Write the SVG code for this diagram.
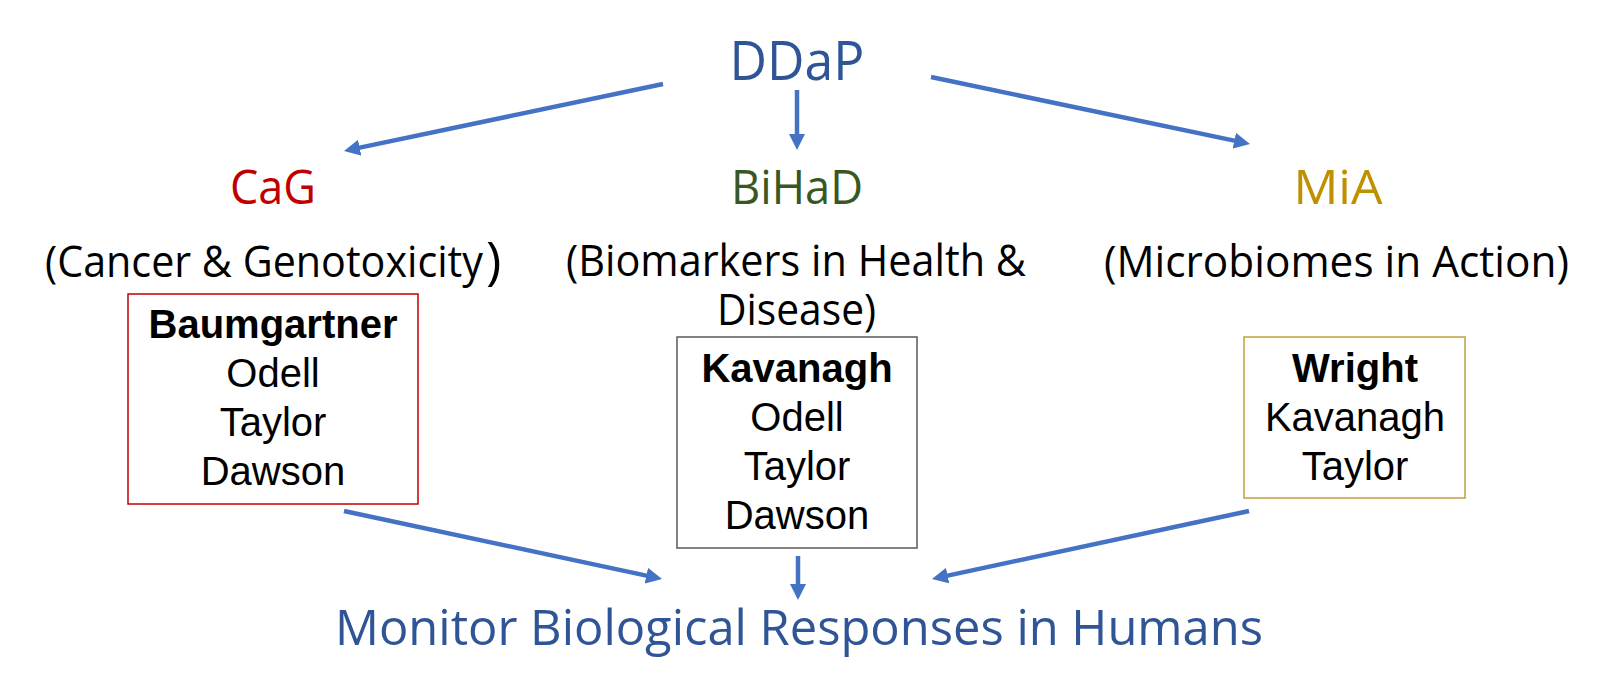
<svg xmlns="http://www.w3.org/2000/svg" width="1600" height="694" viewBox="0 0 1600 694">
<style>
.h{font-family:"Open Sans","Noto Sans",sans-serif;text-anchor:middle}
.d{font-family:"Open Sans","Noto Sans",sans-serif;font-size:43px;fill:#000}
.n{font-family:"Liberation Sans",Arial,sans-serif;font-size:40px;fill:#000;text-anchor:middle}
.b{font-weight:bold}
.c{fill:none;stroke:#4472C4;stroke-width:4.5}
</style>
<defs>
<marker id="ah" viewBox="0 0 16 16" markerWidth="16" markerHeight="16" refX="6" refY="8" orient="auto" markerUnits="userSpaceOnUse">
<path d="M0,0 L16,8 L0,16 z" fill="#4472C4"/>
</marker>
</defs>
<rect width="1600" height="694" fill="#fff"/>
<g id="ddap"><text class="h" x="797" y="80" font-size="54" fill="#2F5597" textLength="135" lengthAdjust="spacingAndGlyphs">DDaP</text></g>
<g id="cag">
<text class="h" x="273" y="204" font-size="48" fill="#C00000" textLength="86" lengthAdjust="spacingAndGlyphs">CaG</text>
<text class="d" x="45" y="277"><tspan textLength="438" lengthAdjust="spacingAndGlyphs">(Cancer &amp; Genotoxicity</tspan><tspan x="486" y="279" font-size="52">)</tspan></text>
</g>
<g id="bihad">
<text class="h" x="797" y="204" font-size="48" fill="#385723" textLength="132" lengthAdjust="spacingAndGlyphs">BiHaD</text>
<text class="d"><tspan x="566" y="276" textLength="460" lengthAdjust="spacingAndGlyphs">(Biomarkers in Health &amp;</tspan><tspan x="717" y="325" textLength="159" lengthAdjust="spacingAndGlyphs">Disease)</tspan></text>
</g>
<g id="mia">
<text class="h" x="1338" y="204" font-size="48" fill="#BF9000" textLength="89" lengthAdjust="spacingAndGlyphs">MiA</text>
<text class="d" x="1104" y="277" textLength="465" lengthAdjust="spacingAndGlyphs">(Microbiomes in Action)</text>
</g>
<g id="box-cag">
<rect x="128" y="294" width="290" height="210" fill="#fff" stroke="#C00000" stroke-width="1.5"/>
<text class="n b" x="273" y="338">Baumgartner</text>
<text class="n" x="273" y="387">Odell</text>
<text class="n" x="273" y="436">Taylor</text>
<text class="n" x="273" y="485">Dawson</text>
</g>
<g id="box-bihad">
<rect x="677" y="337" width="240" height="211" fill="#fff" stroke="#595959" stroke-width="1.5"/>
<text class="n b" x="797" y="382">Kavanagh</text>
<text class="n" x="797" y="431">Odell</text>
<text class="n" x="797" y="480">Taylor</text>
<text class="n" x="797" y="529">Dawson</text>
</g>
<g id="box-mia">
<rect x="1244" y="337" width="221" height="161" fill="#fff" stroke="#BFA040" stroke-width="1.5"/>
<text class="n b" x="1355" y="382">Wright</text>
<text class="n" x="1355" y="431">Kavanagh</text>
<text class="n" x="1355" y="480">Taylor</text>
</g>
<g id="monitor"><text class="h" x="799" y="645" font-size="50" fill="#2F5597" textLength="928" lengthAdjust="spacingAndGlyphs">Monitor Biological Responses in Humans</text></g>
<g id="connectors">
<line class="c" x1="663" y1="84" x2="353.8" y2="148.9" marker-end="url(#ah)"/>
<line class="c" x1="797" y1="90" x2="797" y2="140" marker-end="url(#ah)"/>
<line class="c" x1="931" y1="77" x2="1240.2" y2="141.9" marker-end="url(#ah)"/>
<line class="c" x1="344" y1="511" x2="652.2" y2="576.9" marker-end="url(#ah)"/>
<line class="c" x1="798" y1="556" x2="798" y2="590" marker-end="url(#ah)"/>
<line class="c" x1="1249" y1="511" x2="941.8" y2="576.9" marker-end="url(#ah)"/>
</g>
</svg>
